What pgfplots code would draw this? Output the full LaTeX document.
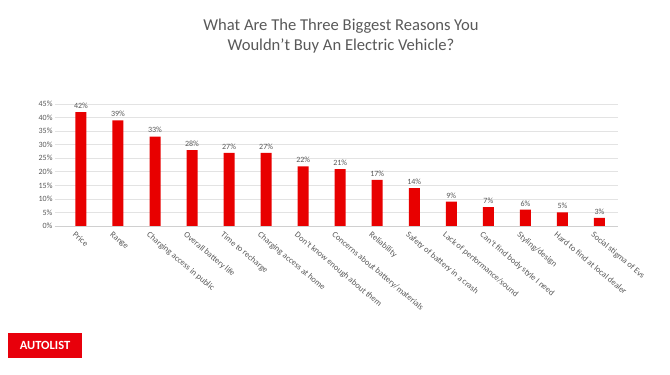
\documentclass[border=0pt]{standalone}
\usepackage{pgfplots}
\pgfplotsset{compat=1.18}
\usepackage{fontspec}
\setmainfont{Carlito}
\definecolor{barred}{HTML}{E80000}
\definecolor{txtgray}{HTML}{595959}
\definecolor{gridgray}{HTML}{E3E3E3}
\definecolor{axisgray}{HTML}{D0D0D0}
\definecolor{logored}{HTML}{E8000B}
\begin{document}
\begin{tikzpicture}
  \useasboundingbox[fill=white] (0pt,0pt) rectangle (670pt,375pt);
  % title
  \node[text=txtgray, font=\fontsize{16.6}{20}\selectfont, align=center] at (341pt,339pt)
    {What Are The Three Biggest Reasons You\\Wouldn’t Buy An Electric Vehicle?};
  \begin{axis}[
    at={(55pt,149pt)}, anchor=south west,
    scale only axis, width=563pt, height=122pt,
    xmin=-0.7, xmax=14.5, ymin=0, ymax=45,
    ytick={0,5,...,45},
    yticklabel={\pgfmathprintnumber{\tick}\%},
    /pgf/number format/assume math mode=true,
    ymajorgrids, grid style={gridgray, line width=0.6pt},
    axis x line*=bottom, axis y line*=left,
    y axis line style={draw=none},
    x axis line style={axisgray, line width=0.7pt},
    xtick=data, major tick length=0pt,
    xticklabels={Price, Range, Charging access in public, Overall battery life,
      Time to recharge, Charging access at home, Don't know enough about them,
      Concerns about battery/materials, Reliability, Safety of battery in a crash,
      Lack of performance/sound, Can't find body style I need, Styling/design,
      Hard to find at local dealer, Social stigma of Evs},
    xticklabel style={rotate=-40, anchor=north west, inner sep=1pt,
      text=txtgray, font=\fontsize{8.5}{10}\selectfont, xshift=-1.5pt, yshift=-6pt},
    yticklabel style={text=txtgray, font=\fontsize{8}{9}\selectfont, xshift=1pt},
    ybar, bar width=11pt,
    nodes near coords={\pgfmathprintnumber{\pgfplotspointmeta}\%},
    nodes near coords style={text=txtgray, font=\fontsize{8}{9}\selectfont,
      /pgf/number format/assume math mode=true},
    clip=false,
  ]
    \addplot[fill=barred, draw=none] coordinates {
      (0,42) (1,39) (2,33) (3,28) (4,27) (5,27) (6,22) (7,21)
      (8,17) (9,14) (10,9) (11,7) (12,6) (13,5) (14,3)};
  \end{axis}
  % logo
  \fill[logored] (8pt,17pt) rectangle (82pt,42pt);
  \node[text=white, font=\bfseries\fontsize{12.5}{14}\selectfont] at (45pt,29.5pt) {AUTOLIST};
\end{tikzpicture}
\end{document}
